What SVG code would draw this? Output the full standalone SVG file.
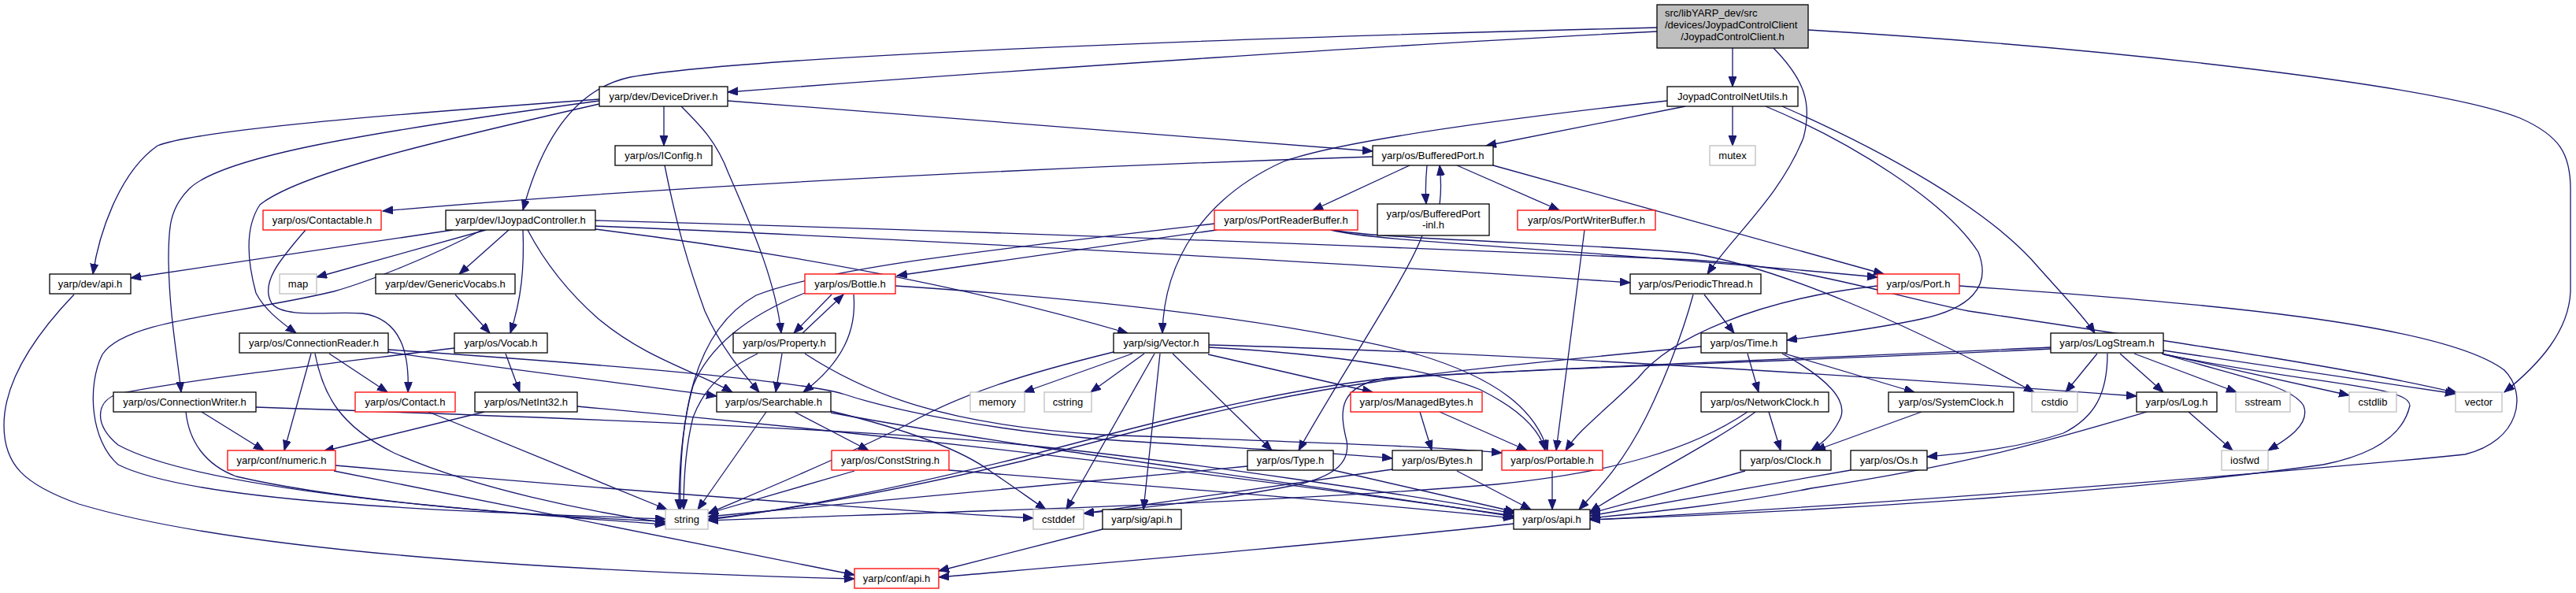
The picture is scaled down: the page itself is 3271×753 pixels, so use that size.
<svg xmlns="http://www.w3.org/2000/svg" width="3271" height="753" viewBox="0 0 3271 753">
<style>
.node rect{fill:#fff;stroke:#000;stroke-width:1.3}
.red rect{stroke:#f00}
.sys rect{stroke:#bfbfbf}
.root rect{fill:#bfbfbf}
text{font-family:"Liberation Sans",Arial,sans-serif;font-size:13px;fill:#000;text-anchor:middle}
.l{text-anchor:start}
#edges path{fill:none;stroke:#191970;stroke-width:1.3;marker-end:url(#a)}
</style>
<defs>
<marker id="a" markerWidth="15" markerHeight="11" refX="13" refY="5" orient="auto" markerUnits="userSpaceOnUse"><path d="M0,0 L13,5 L0,10 z" fill="#191970" stroke="#191970" stroke-width="1"/></marker>
</defs>
<rect width="3271" height="753" fill="#fff"/>
<g id="edges">
<path d="M2104,40 C1800,55 1300,88 924,117"/>
<path d="M2104,35 C1500,50 950,72 800,98 C735,112 690,170 664,267"/>
<path d="M2200,61 L2200,110"/>
<path d="M2252,61 C2290,100 2302,130 2290,175 C2260,250 2200,300 2168,348"/>
<path d="M2296,38 C2700,62 3100,110 3200,150 C3250,172 3264,195 3264,240 L3264,370 C3262,420 3225,462 3180,498"/>
<path d="M2140,135 L1887,185"/>
<path d="M2200,135 L2200,185"/>
<path d="M2117,128 C1900,152 1700,180 1630,205 C1530,250 1478,330 1476,423"/>
<path d="M2242,135 C2350,180 2470,255 2512,320 C2530,365 2500,392 2440,405 C2380,418 2320,425 2269,432"/>
<path d="M2263,135 C2400,195 2520,265 2580,330 C2615,370 2645,400 2660,423"/>
<path d="M761,126 C500,145 250,165 200,185 C150,220 125,300 118,348"/>
<path d="M761,128 C450,170 280,200 240,240 C215,265 214,290 214,330 C215,400 225,450 230,498"/>
<path d="M761,132 C550,180 380,220 330,260 C310,290 315,335 325,372 C335,392 355,408 376,423"/>
<path d="M843,135 L843,185"/>
<path d="M865,135 C890,160 910,180 925,220 C960,300 985,360 992,423"/>
<path d="M924,128 L1743,192"/>
<path d="M844,210 C860,290 875,340 895,395 C915,440 940,470 964,498"/>
<path d="M1743,199 C1400,210 900,232 486,268"/>
<path d="M1790,210 L1667,267"/>
<path d="M1812,210 C1810,230 1810,245 1811,259"/>
<path d="M1828,259 C1830,245 1830,228 1828,210"/>
<path d="M1850,210 L1980,267"/>
<path d="M1896,210 L2392,348"/>
<path d="M1806,299 C1785,355 1700,480 1649,572"/>
<path d="M2012,292 L1976,572"/>
<path d="M1545,292 L1139,350"/>
<path d="M1542,284 C1250,318 1050,340 960,375 C880,420 862,530 864,647"/>
<path d="M1690,292 C1750,308 2000,315 2384,352"/>
<path d="M1692,292 C1760,305 2050,310 2150,322 C2260,340 2420,410 2583,498"/>
<path d="M575,292 L166,353"/>
<path d="M617,292 L402,352"/>
<path d="M646,292 L583,348"/>
<path d="M664,292 C666,340 662,380 648,423"/>
<path d="M670,292 C690,330 720,370 760,405 C820,455 880,470 930,498"/>
<path d="M612,292 C540,330 460,360 424,370 C300,400 160,405 130,450 C110,490 115,560 150,590 C250,640 600,650 845,659"/>
<path d="M756,280 C1300,295 1800,315 2150,330 C2300,340 2380,370 2500,395 C2800,440 3000,470 3120,499"/>
<path d="M756,287 C1200,305 1800,340 2070,359"/>
<path d="M756,291 C950,315 1200,355 1432,423"/>
<path d="M388,292 C355,330 330,360 345,385 C360,405 420,395 460,398 C510,405 520,450 518,498"/>
<path d="M578,374 L622,423"/>
<path d="M642,449 L660,498"/>
<path d="M577,442 C450,458 250,480 150,500 C120,510 120,540 150,565 C250,620 600,652 845,662"/>
<path d="M418,449 L492,498"/>
<path d="M395,449 L361,572"/>
<path d="M400,449 C410,500 430,540 500,575 C600,620 750,650 845,664"/>
<path d="M493,447 C650,470 820,490 910,503"/>
<path d="M493,444 C700,458 1000,480 1070,500 C1130,520 1250,545 1400,558 C1550,568 1700,575 1768,582"/>
<path d="M256,523 L335,572"/>
<path d="M236,523 C240,560 260,590 300,605 C450,640 700,655 845,666"/>
<path d="M325,517 C700,530 1100,545 1300,565 C1500,585 1800,630 1922,652"/>
<path d="M544,523 L847,647"/>
<path d="M615,523 L411,573"/>
<path d="M733,516 C1000,540 1400,580 1922,655"/>
<path d="M426,591 C700,615 1000,640 1312,658"/>
<path d="M424,598 L1085,730"/>
<path d="M94,374 C50,420 5,480 5,540 C5,590 30,615 100,640 C300,700 700,725 1085,735"/>
<path d="M1019,423 L1071,374"/>
<path d="M993,449 L985,498"/>
<path d="M962,449 C920,470 895,490 880,530 C870,570 868,610 868,647"/>
<path d="M1022,449 C1100,500 1200,540 1400,552 C1600,560 1800,565 1907,575"/>
<path d="M1056,374 L1008,423"/>
<path d="M1084,374 C1088,420 1070,460 1020,498"/>
<path d="M1022,372 C950,400 900,440 880,490 C866,540 862,600 862,647"/>
<path d="M1137,363 C1400,380 1650,410 1800,450 C1900,480 1950,520 1965,572"/>
<path d="M973,523 L886,647"/>
<path d="M1009,523 L1103,572"/>
<path d="M1055,522 C1150,545 1220,570 1260,600 C1290,620 1310,635 1328,647"/>
<path d="M1055,524 C1300,570 1700,620 1922,656"/>
<path d="M1085,598 L899,652"/>
<path d="M1205,597 C1500,620 1800,645 1922,658"/>
<path d="M1438,449 L1300,498"/>
<path d="M1453,449 L1385,498"/>
<path d="M1414,447 C1300,475 1220,500 1150,540 C1050,590 950,630 899,652"/>
<path d="M1466,449 L1354,647"/>
<path d="M1473,449 L1452,647"/>
<path d="M1489,449 L1615,572"/>
<path d="M1534,450 L1743,498"/>
<path d="M1535,438 C1800,445 2200,465 2713,503"/>
<path d="M1535,441 C1700,450 1820,470 1880,495 C1930,520 1955,545 1962,572"/>
<path d="M1803,523 L1818,572"/>
<path d="M1828,523 L1939,572"/>
<path d="M1850,598 L1944,647"/>
<path d="M1768,596 L1376,652"/>
<path d="M1584,592 C1300,620 1000,645 899,656"/>
<path d="M1693,597 L1924,650"/>
<path d="M1971,598 L1971,647"/>
<path d="M1400,672 L1192,725"/>
<path d="M1922,665 C1700,690 1400,715 1192,733"/>
<path d="M2384,363 C2230,380 2120,430 2080,480 C2040,520 2005,545 1988,572"/>
<path d="M2488,363 C2800,385 3100,410 3180,470 C3210,500 3200,560 3130,577 C2900,600 2400,640 2019,660"/>
<path d="M2164,374 L2202,423"/>
<path d="M2150,374 C2135,430 2110,490 2090,530 C2060,590 2030,620 2005,647"/>
<path d="M2219,449 L2233,498"/>
<path d="M2263,449 C2320,480 2350,510 2335,535 C2325,555 2310,565 2300,572"/>
<path d="M2266,449 L2431,498"/>
<path d="M2160,440 C2000,455 1800,475 1746,485 C1600,505 1450,545 1300,585 C1100,632 980,650 899,659"/>
<path d="M2246,523 L2261,572"/>
<path d="M2229,523 C2180,560 2080,610 2019,650"/>
<path d="M2219,523 C2150,570 2050,600 1900,615 C1600,640 1200,650 899,661"/>
<path d="M2440,523 L2305,572"/>
<path d="M2216,598 L2019,652"/>
<path d="M2350,597 L2019,655"/>
<path d="M2779,523 L2835,572"/>
<path d="M2726,523 C2600,560 2500,590 2300,620 C2200,640 2100,650 2019,658"/>
<path d="M2663,449 L2623,498"/>
<path d="M2692,449 L2747,498"/>
<path d="M2710,449 L2840,498"/>
<path d="M2745,449 L2983,502"/>
<path d="M2747,445 L3118,500"/>
<path d="M2745,449 C2850,480 2910,490 2925,515 C2935,540 2900,560 2880,572"/>
<path d="M2747,450 C2950,490 3060,490 3060,515 C3050,560 3000,580 2950,590 C2700,625 2300,650 2019,660"/>
<path d="M2676,449 C2676,500 2660,530 2620,550 C2560,570 2500,575 2447,580"/>
<path d="M2604,441 C2300,455 1900,470 1746,482 C1600,500 1450,540 1300,580 C1100,630 980,650 899,660"/>
<path d="M2604,443 C2300,458 1900,470 1760,480 C1700,490 1700,520 1710,560 C1715,590 1690,605 1650,615 C1550,635 1450,645 1376,652"/>
</g>
<g id="n0" class="node root"><rect x="2104" y="6" width="192" height="55"/><text class="l" x="2114" y="21">src/libYARP_dev/src</text><text class="l" x="2114" y="36">/devices/JoypadControlClient</text><text x="2200" y="50.5">/JoypadControlClient.h</text></g>
<g id="n1" class="node"><rect x="761" y="110" width="163" height="25"/><text x="842.5" y="127">yarp/dev/DeviceDriver.h</text></g>
<g id="n2" class="node"><rect x="2117" y="110" width="166" height="25"/><text x="2200" y="127">JoypadControlNetUtils.h</text></g>
<g id="n3" class="node"><rect x="781" y="185" width="123" height="25"/><text x="842.5" y="202">yarp/os/IConfig.h</text></g>
<g id="n4" class="node"><rect x="1743" y="185" width="153" height="25"/><text x="1819.5" y="202">yarp/os/BufferedPort.h</text></g>
<g id="n5" class="node sys"><rect x="2171" y="185" width="58" height="25"/><text x="2200" y="202">mutex</text></g>
<g id="n6" class="node red"><rect x="334" y="267" width="150" height="25"/><text x="409" y="284">yarp/os/Contactable.h</text></g>
<g id="n7" class="node"><rect x="566" y="267" width="190" height="25"/><text x="661" y="284">yarp/dev/IJoypadController.h</text></g>
<g id="n8" class="node red"><rect x="1542" y="267" width="182" height="25"/><text x="1633" y="284">yarp/os/PortReaderBuffer.h</text></g>
<g id="n9" class="node"><rect x="1749" y="259" width="142" height="40"/><text x="1820" y="276">yarp/os/BufferedPort</text><text x="1820" y="290">-inl.h</text></g>
<g id="n10" class="node red"><rect x="1927" y="267" width="175" height="25"/><text x="2014.5" y="284">yarp/os/PortWriterBuffer.h</text></g>
<g id="n11" class="node"><rect x="63" y="348" width="103" height="25"/><text x="114.5" y="365">yarp/dev/api.h</text></g>
<g id="n12" class="node sys"><rect x="355" y="348" width="47" height="25"/><text x="378.5" y="365">map</text></g>
<g id="n13" class="node"><rect x="477" y="348" width="177" height="25"/><text x="565.5" y="365">yarp/dev/GenericVocabs.h</text></g>
<g id="n14" class="node red"><rect x="1022" y="348" width="115" height="25"/><text x="1079.5" y="365">yarp/os/Bottle.h</text></g>
<g id="n15" class="node"><rect x="2070" y="348" width="166" height="25"/><text x="2153" y="365">yarp/os/PeriodicThread.h</text></g>
<g id="n16" class="node red"><rect x="2384" y="348" width="104" height="25"/><text x="2436" y="365">yarp/os/Port.h</text></g>
<g id="n17" class="node"><rect x="304" y="423" width="189" height="25"/><text x="398.5" y="440">yarp/os/ConnectionReader.h</text></g>
<g id="n18" class="node"><rect x="577" y="423" width="118" height="25"/><text x="636" y="440">yarp/os/Vocab.h</text></g>
<g id="n19" class="node"><rect x="931" y="423" width="130" height="25"/><text x="996" y="440">yarp/os/Property.h</text></g>
<g id="n20" class="node"><rect x="1414" y="423" width="121" height="25"/><text x="1474.5" y="440">yarp/sig/Vector.h</text></g>
<g id="n21" class="node"><rect x="2160" y="423" width="109" height="25"/><text x="2214.5" y="440">yarp/os/Time.h</text></g>
<g id="n22" class="node"><rect x="2604" y="423" width="143" height="25"/><text x="2675.5" y="440">yarp/os/LogStream.h</text></g>
<g id="n23" class="node"><rect x="144" y="498" width="181" height="25"/><text x="234.5" y="515">yarp/os/ConnectionWriter.h</text></g>
<g id="n24" class="node red"><rect x="451" y="498" width="127" height="25"/><text x="514.5" y="515">yarp/os/Contact.h</text></g>
<g id="n25" class="node"><rect x="603" y="498" width="130" height="25"/><text x="668" y="515">yarp/os/NetInt32.h</text></g>
<g id="n26" class="node"><rect x="910" y="498" width="145" height="25"/><text x="982.5" y="515">yarp/os/Searchable.h</text></g>
<g id="n27" class="node sys"><rect x="1232" y="498" width="69" height="25"/><text x="1266.5" y="515">memory</text></g>
<g id="n28" class="node sys"><rect x="1326" y="498" width="60" height="25"/><text x="1356" y="515">cstring</text></g>
<g id="n29" class="node red"><rect x="1715" y="498" width="167" height="25"/><text x="1798.5" y="515">yarp/os/ManagedBytes.h</text></g>
<g id="n30" class="node"><rect x="2160" y="498" width="162" height="25"/><text x="2241" y="515">yarp/os/NetworkClock.h</text></g>
<g id="n31" class="node"><rect x="2398" y="498" width="159" height="25"/><text x="2477.5" y="515">yarp/os/SystemClock.h</text></g>
<g id="n32" class="node sys"><rect x="2580" y="498" width="58" height="25"/><text x="2609" y="515">cstdio</text></g>
<g id="n33" class="node"><rect x="2713" y="498" width="102" height="25"/><text x="2764" y="515">yarp/os/Log.h</text></g>
<g id="n34" class="node sys"><rect x="2839" y="498" width="69" height="25"/><text x="2873.5" y="515">sstream</text></g>
<g id="n35" class="node sys"><rect x="2983" y="498" width="60" height="25"/><text x="3013" y="515">cstdlib</text></g>
<g id="n36" class="node sys"><rect x="3118" y="498" width="59" height="25"/><text x="3147.5" y="515">vector</text></g>
<g id="n37" class="node red"><rect x="289" y="572" width="137" height="25"/><text x="357.5" y="589">yarp/conf/numeric.h</text></g>
<g id="n38" class="node red"><rect x="1056" y="572" width="149" height="25"/><text x="1130.5" y="589">yarp/os/ConstString.h</text></g>
<g id="n39" class="node"><rect x="1584" y="572" width="109" height="25"/><text x="1638.5" y="589">yarp/os/Type.h</text></g>
<g id="n40" class="node"><rect x="1768" y="572" width="114" height="25"/><text x="1825" y="589">yarp/os/Bytes.h</text></g>
<g id="n41" class="node red"><rect x="1907" y="572" width="128" height="25"/><text x="1971" y="589">yarp/os/Portable.h</text></g>
<g id="n42" class="node"><rect x="2210" y="572" width="115" height="25"/><text x="2267.5" y="589">yarp/os/Clock.h</text></g>
<g id="n43" class="node"><rect x="2350" y="572" width="97" height="25"/><text x="2398.5" y="589">yarp/os/Os.h</text></g>
<g id="n44" class="node sys"><rect x="2821" y="572" width="59" height="25"/><text x="2850.5" y="589">iosfwd</text></g>
<g id="n45" class="node sys"><rect x="845" y="647" width="54" height="25"/><text x="872" y="664">string</text></g>
<g id="n46" class="node sys"><rect x="1312" y="647" width="64" height="25"/><text x="1344" y="664">cstddef</text></g>
<g id="n47" class="node"><rect x="1400" y="647" width="100" height="25"/><text x="1450" y="664">yarp/sig/api.h</text></g>
<g id="n48" class="node"><rect x="1922" y="647" width="97" height="25"/><text x="1970.5" y="664">yarp/os/api.h</text></g>
<g id="n49" class="node red"><rect x="1085" y="722" width="107" height="25"/><text x="1138.5" y="739">yarp/conf/api.h</text></g>
</svg>
